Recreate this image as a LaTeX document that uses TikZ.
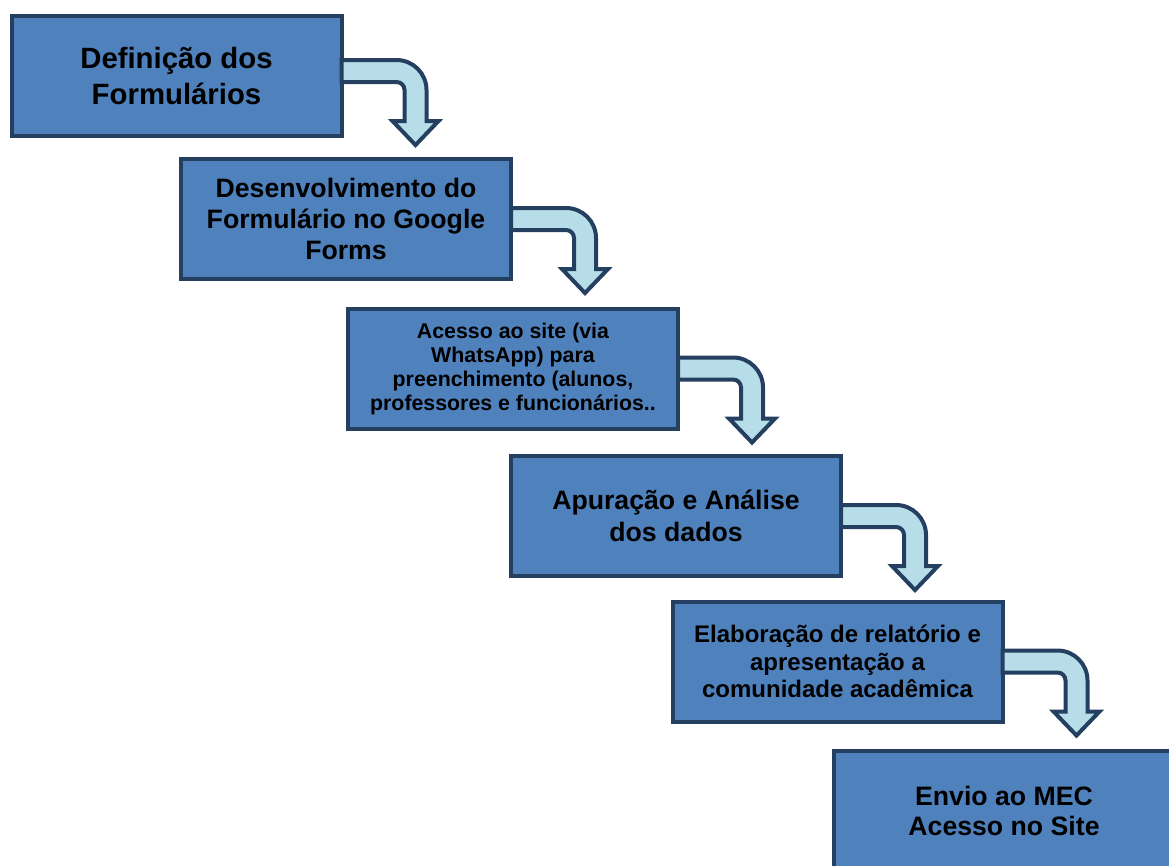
\documentclass[tikz,border=0pt]{standalone}
\usepackage{fontspec}
\setmainfont{Liberation Sans}
\definecolor{boxblue}{HTML}{4F81BD}
\definecolor{navy}{HTML}{243F60}
\definecolor{paleblue}{HTML}{B7DEE8}

\begin{document}
\begin{tikzpicture}[x=0.75pt, y=0.75pt, etapa/.style={rectangle, draw=navy, fill=boxblue, line width=3pt, minimum width=247.5pt, minimum height=90pt, align=center, inner sep=2pt}, seta/.pic={\filldraw[draw=navy, fill=paleblue, line width=3pt] (-2,11) -- (53,11) arc[start angle=90, end angle=0, radius=30] -- (83,-50) -- (95,-50) -- (72,-74) -- (49,-50) -- (61,-50) -- (61,-19) arc[start angle=0, end angle=90, radius=8] -- (-2,-11) -- cycle;}]

  \useasboundingbox (0,0) rectangle (1169,-865);
  \clip (0,0) rectangle (1169,-865);

  \node[etapa, font=\fontsize{22}{27}\selectfont\bfseries] (def) at (176.5,-76) {Definição dos\\Formulários};
  \node[etapa, font=\fontsize{20}{23}\selectfont\bfseries] (dev) at (346,-219) {Desenvolvimento do\\Formulário no Google\\Forms};
  \node[etapa, font=\fontsize{16}{18}\selectfont\bfseries] (acesso) at (513,-368.5) {Acesso ao site (via\\WhatsApp) para\\preenchimento (alunos,\\professores e funcionários..};
  \node[etapa, font=\fontsize{20}{24}\selectfont\bfseries] (apur) at (676,-516) {Apuração e Análise\\dos dados};
  \node[etapa, font=\fontsize{18}{20.6}\selectfont\bfseries] (relat) at (837.5,-661.5) {Elaboração de relatório e\\apresentação a\\comunidade acadêmica};
  \node[etapa, minimum width=255pt, font=\fontsize{20}{23}\selectfont\bfseries] (mec) at (1004,-811) {Envio ao MEC\\Acesso no Site};

  \pic at ([yshift=3.75pt]def.east) {seta};
  \pic at (dev.east) {seta};
  \pic at (acesso.east) {seta};
  \pic at (apur.east) {seta};
  \pic at (relat.east) {seta};
\end{tikzpicture}
\end{document}
